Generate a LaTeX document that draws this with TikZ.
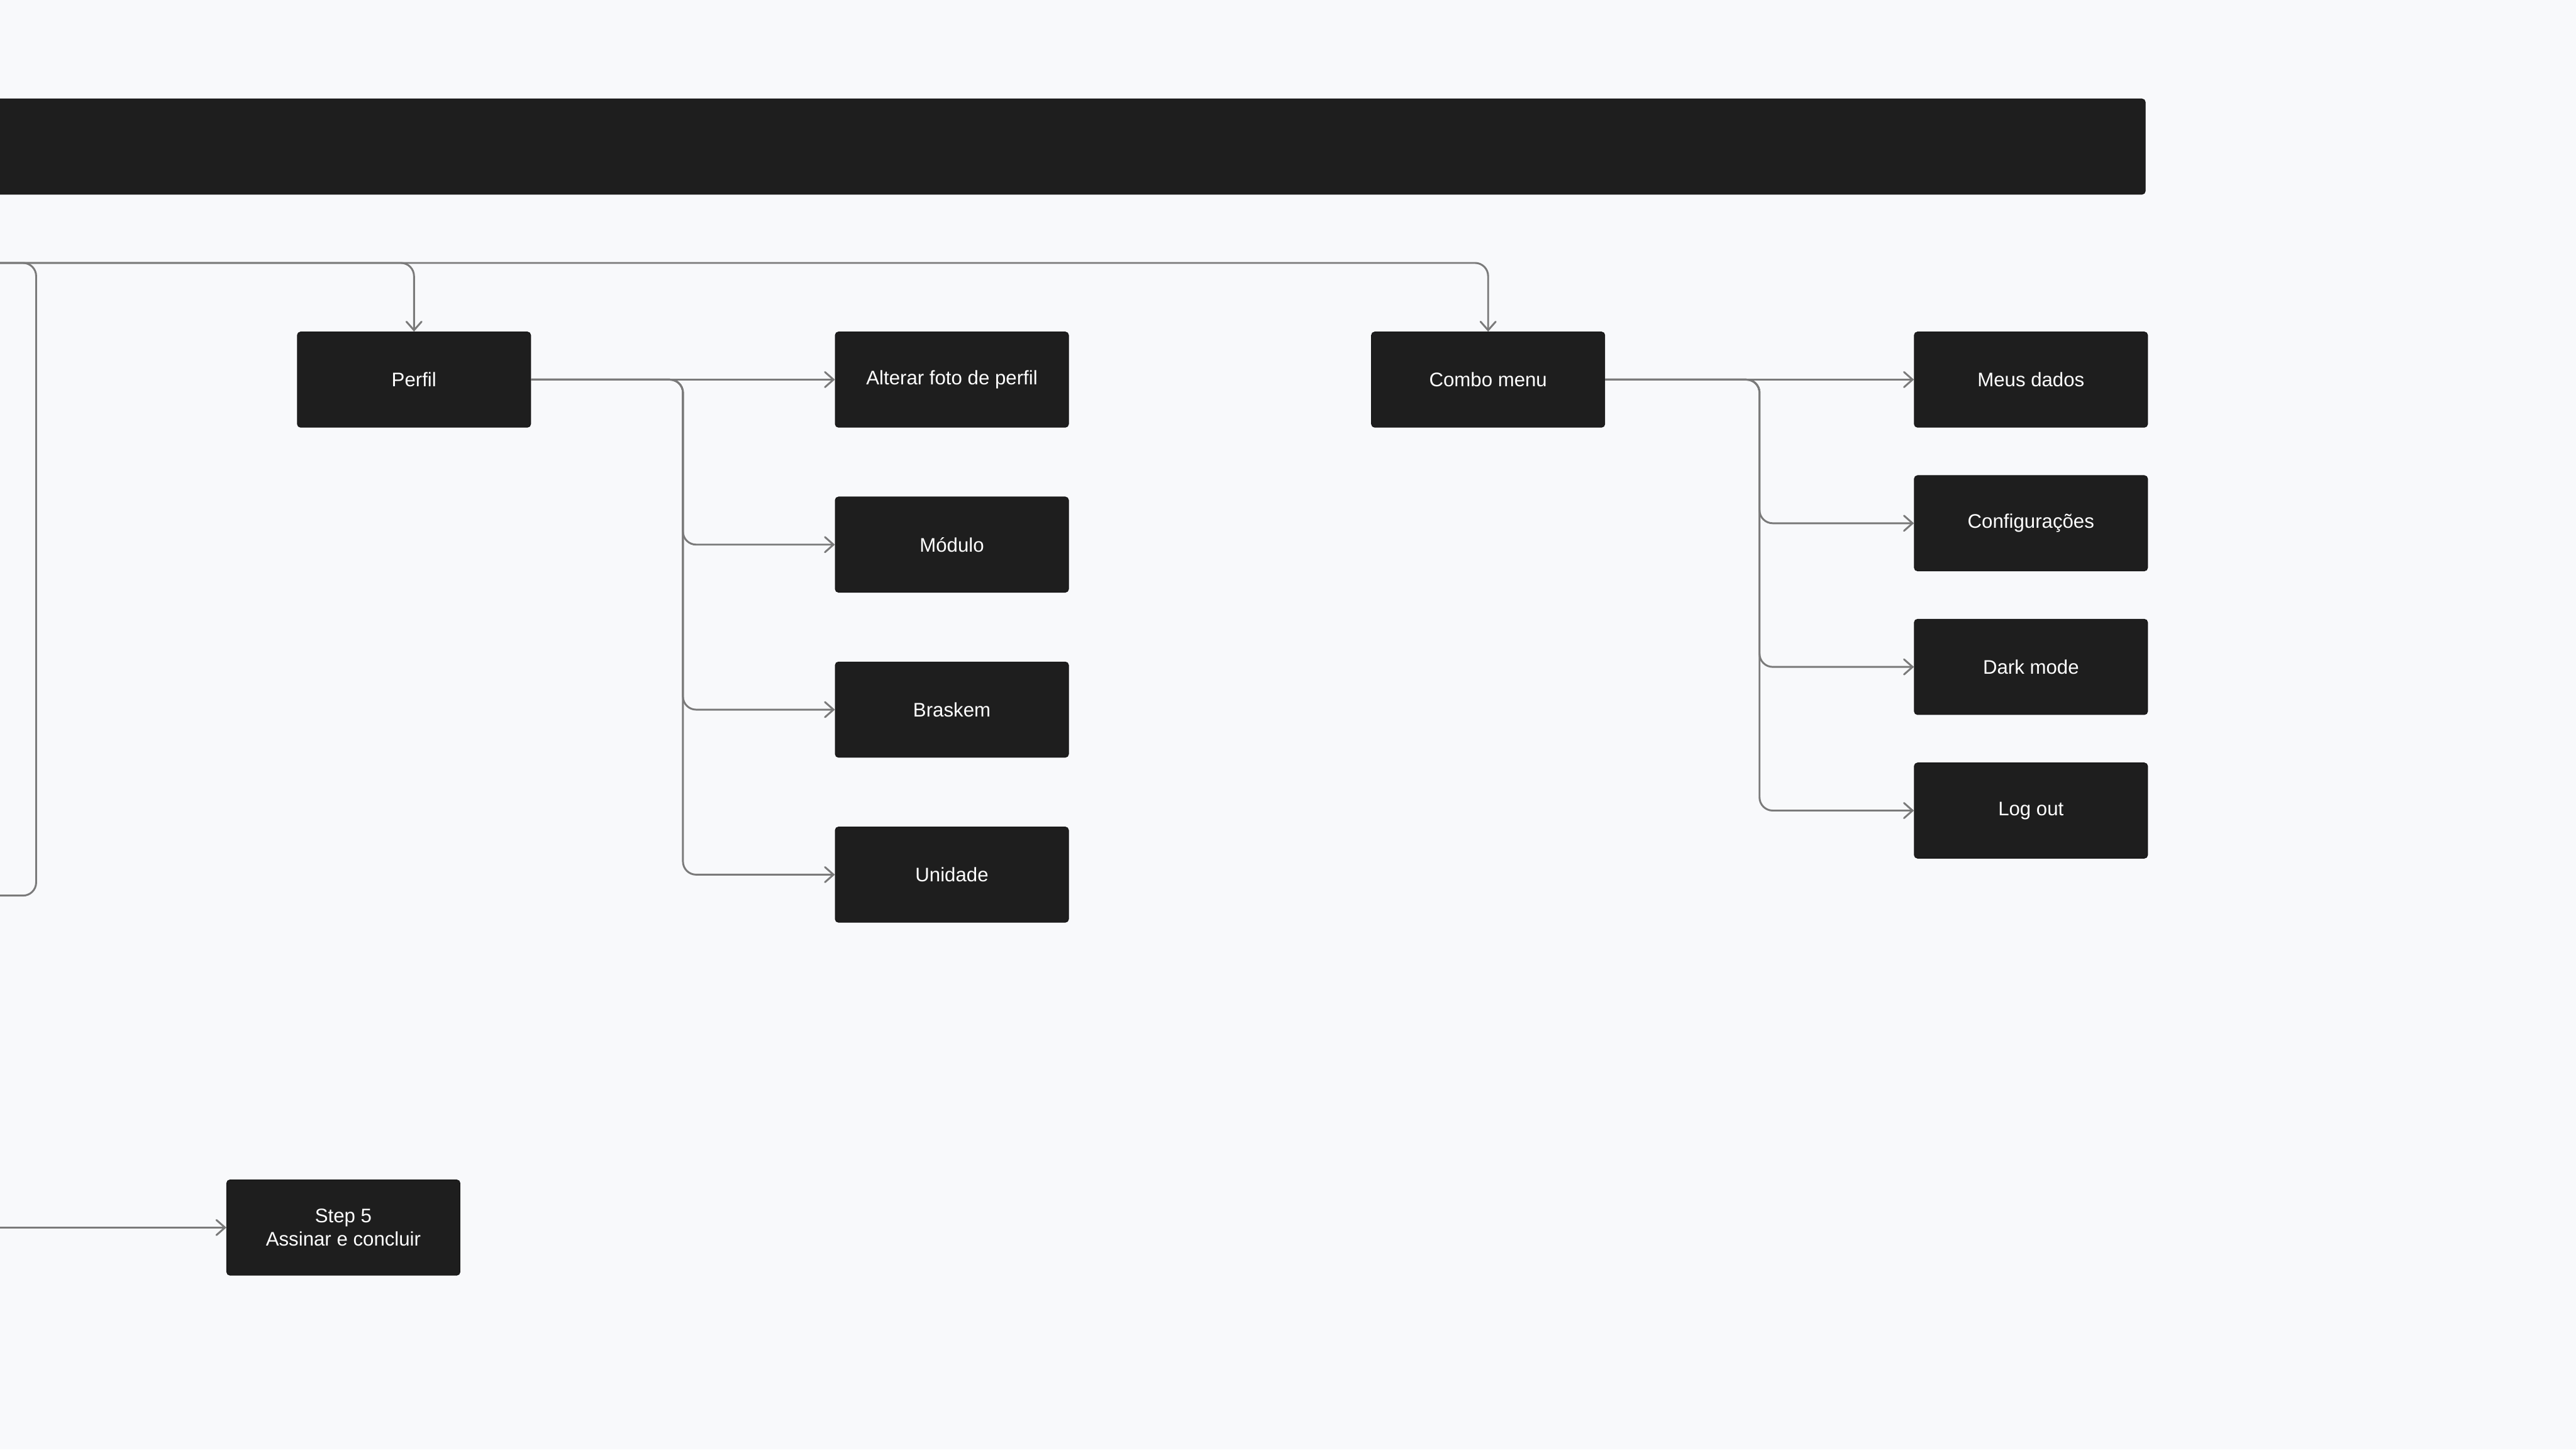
\documentclass[tikz,border=0pt]{standalone}
\usepackage{fontspec}
\setmainfont{Liberation Sans}
\usepackage{tikz}
\usetikzlibrary{arrows.meta,positioning,calc}
\usepackage{xcolor}
\definecolor{bgc}{HTML}{F8F9FB}
\definecolor{card}{HTML}{1E1E1E}
\definecolor{cardedge}{HTML}{161616}
\definecolor{wire}{HTML}{7A7A7A}

\begin{document}
\begin{tikzpicture}[x=0.05cm,y=-0.05cm,node distance=2.1cm,
   bx/.style={draw=cardedge,line width=0.6pt,fill=card,rounded corners=1mm,
              minimum width=7.1cm,minimum height=2.9cm,text=white,align=center,
              font=\fontsize{17}{20.5}\selectfont,inner sep=2pt},
   wr/.style={draw=wire,line width=1.6pt,rounded corners=4mm},
   to/.style={wr,-{Straight Barb[length=2.6mm,width=4.6mm,line cap=round]}}]
  \useasboundingbox (0,0) rectangle (1568,882);
  \fill[bgc] (0,0) rectangle (1568,882);
  % header bar
  \node[bx,minimum width=66.3cm,anchor=north east] (header) at (1306,60) {};
  % perfil branch
  \node[bx] (perfil) at (252,231) {Perfil};
  \node[bx,right=9.25cm of perfil] (alterar) {Alterar foto de perfil};
  \node[bx,below=of alterar] (modulo) {Módulo};
  \node[bx,below=of modulo] (braskem) {Braskem};
  \node[bx,below=of braskem] (unidade) {Unidade};
  % combo branch
  \node[bx,right=9.2cm of alterar] (combo) {Combo menu};
  \node[bx,right=9.4cm of combo] (dados) {Meus dados};
  \node[bx,below=1.45cm of dados] (config) {Configurações};
  \node[bx,below=1.45cm of config] (dark) {Dark mode};
  \node[bx,below=1.45cm of dark] (logout) {Log out};
  % step 5
  \node[bx] (step5) at (209,747) {Step 5\\Assinar e concluir};
  % free ends
  \coordinate (src) at (-20,160);
  \coordinate (lb) at (22,545);
  \coordinate (lout) at (-20,545);
  \coordinate (s5in) at (-20,747);
  \coordinate (pj) at ($(perfil.east)!0.5!(alterar.west)$);
  \coordinate (cj) at ($(combo.east)!0.5!(dados.west)$);
  % wires
  \draw[wr] (src) -| (lb) -- (lout);
  \draw[to] (src) -| (perfil.north);
  \draw[to] (src) -| (combo.north);
  \draw[to] (perfil.east) -- (alterar.west);
  \draw[to] (perfil.east) -- (pj) |- (modulo.west);
  \draw[to] (perfil.east) -- (pj) |- (braskem.west);
  \draw[to] (perfil.east) -- (pj) |- (unidade.west);
  \draw[to] (combo.east) -- (dados.west);
  \draw[to] (combo.east) -- (cj) |- (config.west);
  \draw[to] (combo.east) -- (cj) |- (dark.west);
  \draw[to] (combo.east) -- (cj) |- (logout.west);
  \draw[to] (s5in) -- (step5.west);
\end{tikzpicture}
\end{document}
